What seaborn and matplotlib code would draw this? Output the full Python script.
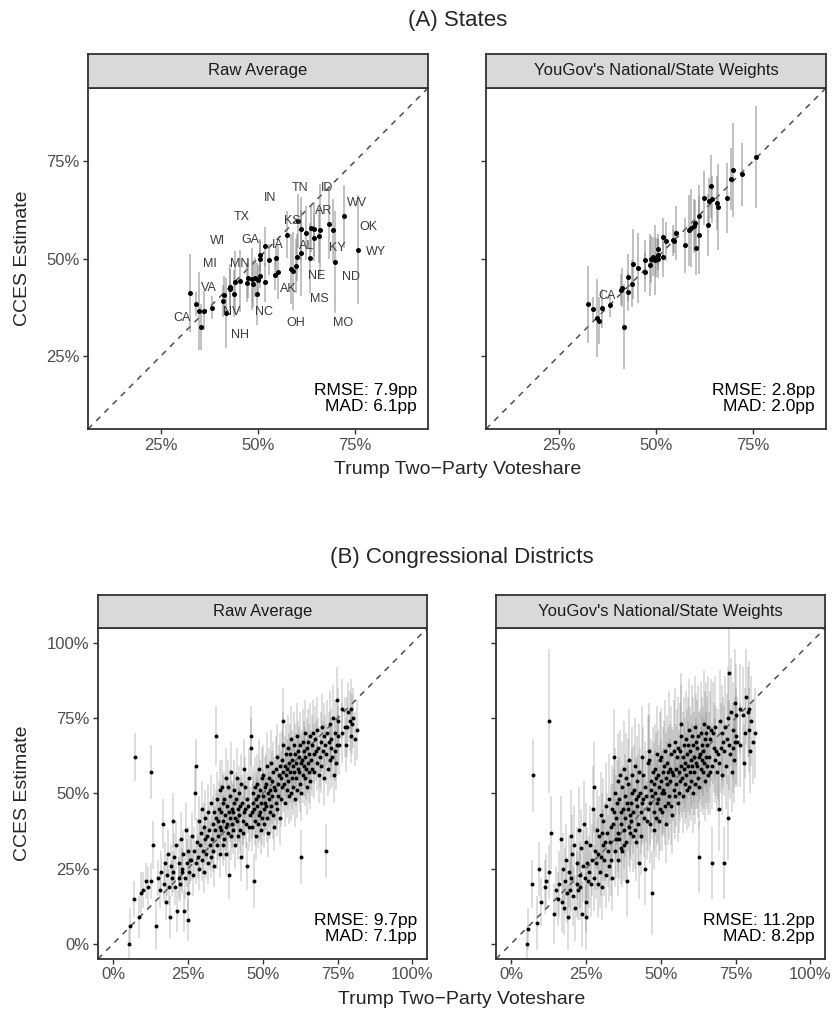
import numpy as np
import pandas as pd
import matplotlib
matplotlib.use("Agg")
import matplotlib.pyplot as plt
from matplotlib.ticker import PercentFormatter
import seaborn as sns


# ==================================================
# DATA — STATES (Trump two-party share vs CCES estimate, in %)
# ==================================================
states = ["AL", "AK", "AZ", "AR", "CA", "CO", "CT", "DE", "FL", "GA",
          "HI", "ID", "IL", "IN", "IA", "KS", "KY", "LA", "ME", "MD",
          "MA", "MI", "MN", "MS", "MO", "MT", "NE", "NV", "NH", "NJ",
          "NM", "NY", "NC", "ND", "OH", "OK", "OR", "PA", "RI", "SC",
          "SD", "TN", "TX", "UT", "VT", "VA", "WA", "WV", "WI", "WY"]
trump_state = [64.4, 58.4, 51.9, 64.3, 33.9, 47.3, 42.8, 44.0, 50.6, 52.7,
               32.5, 68.3, 41.0, 60.0, 55.1, 61.1, 65.7, 60.2, 48.4, 36.0,
               35.3, 50.1, 49.2, 59.1, 59.9, 61.1, 63.5, 48.7, 49.7, 42.9,
               45.3, 38.2, 51.9, 69.8, 54.3, 69.3, 43.8, 50.4, 41.7, 57.4,
               66.0, 63.6, 54.7, 62.3, 34.8, 47.1, 41.2, 72.2, 50.4, 75.7]
raw_state = [55.3, 47.2, 53.2, 57.6, 38.3, 44.9, 42.6, 43.9, 45.5, 49.7,
             41.1, 58.9, 39.1, 50.3, 46.6, 57.7, 55.9, 59.7, 44.7, 36.6,
             32.4, 44.4, 45.1, 46.9, 48.1, 51.5, 50.1, 43.5, 40.9, 42.2,
             44.2, 37.4, 43.9, 49.1, 45.8, 57.2, 41.0, 50.8, 36.1, 56.1,
             57.2, 57.8, 50.1, 56.6, 36.5, 43.8, 40.6, 60.8, 50.0, 52.2]
raw_state_err = [6, 9, 5, 7, 3, 5, 6, 8, 3, 4,
                 10, 9, 4, 6, 7, 8, 7, 7, 8, 5,
                 6, 4, 5, 10, 7, 11, 9, 6, 8, 5,
                 8, 3, 5, 13, 4, 8, 6, 4, 9, 6,
                 12, 6, 3, 7, 10, 5, 5, 8, 5, 14]
wt_state = [65.2, 57.2, 55.4, 68.5, 37.0, 46.5, 45.2, 48.5, 52.4, 54.4,
            38.2, 65.6, 42.0, 59.1, 56.5, 60.8, 64.3, 52.8, 48.3, 37.2,
            34.0, 50.2, 50.5, 57.8, 58.3, 56.0, 58.7, 49.8, 49.7, 41.4,
            47.6, 38.0, 50.3, 72.7, 54.7, 70.5, 43.5, 51.0, 32.5, 53.4,
            63.3, 64.7, 54.4, 65.6, 34.7, 49.7, 42.5, 71.6, 50.0, 76.1]
wt_state_err = [6, 9, 5, 8, 3, 5, 6, 9, 4, 5,
                10, 9, 4, 6, 7, 8, 7, 7, 8, 5,
                6, 5, 5, 10, 7, 10, 8, 6, 9, 5,
                9, 3, 5, 12, 4, 8, 6, 4, 11, 7,
                11, 6, 3, 7, 10, 5, 5, 8, 5, 13]

# text labels (placed by repel in the original)
raw_label_names = ["CA", "VA", "MI", "WI", "TX", "IN", "TN", "ID", "WV", "OK",
                   "WY", "ND", "MO", "MS", "NE", "KY", "AL", "AR", "KS", "IA",
                   "GA", "MN", "NV", "NH", "NC", "OH", "AK"]
raw_label_x = [30.3, 37.4, 37.6, 39.5, 45.9, 53.1, 60.7, 67.7, 75.6, 78.4,
               80.4, 73.9, 71.8, 65.8, 65.1, 70.3, 62.5, 67.0, 58.9, 55.2,
               47.9, 45.4, 43.2, 45.4, 51.5, 59.8, 57.8]
raw_label_y = [34.7, 42.5, 48.6, 54.6, 60.6, 65.6, 68.2, 68.2, 64.3, 58.2,
               51.6, 45.3, 33.4, 39.7, 45.5, 52.7, 53.3, 62.3, 59.6, 53.5,
               54.7, 48.6, 36.3, 30.4, 36.2, 33.4, 42.1]
wt_label_names = ["CA"]
wt_label_x = [37.5]
wt_label_y = [40.4]

# ==================================================
# DATA — CONGRESSIONAL DISTRICTS
# ==================================================
cd_trump = [
    5.3, 5.6, 7.2, 7.0, 8.6, 9.4, 9.9, 11.2, 11.8, 12.8, 12.7, 13.3, 14.5, 15.1,
    15.6, 16.2, 16.7, 16.9, 17.4, 17.8, 18.1, 18.5, 18.8, 19.0, 19.3, 19.7, 20.2, 20.0,
    20.5, 20.8, 21.1, 21.5, 21.9, 22.0, 22.3, 22.6, 22.9, 23.2, 23.5, 23.8, 24.0, 24.3,
    24.6, 24.9, 25.0, 25.2, 25.5, 25.8,
    26.1, 26.4, 26.8, 27.7, 27.0, 27.3, 27.6, 28.1, 28.4, 28.7, 28.9, 29.1, 29.4, 29.6,
    29.9, 30.0, 30.3, 30.5, 30.7, 30.9, 31.1, 31.4, 31.6, 31.9, 32.0, 32.3, 32.6, 32.8,
    33.1, 33.3, 33.5, 33.7, 33.9, 34.3, 34.1, 34.5, 34.7, 34.9, 35.0, 35.2, 35.4, 35.6,
    35.8, 35.9,
    36.0, 36.2, 36.4, 36.6, 36.8, 36.9, 37.1, 37.2, 37.4, 37.6, 37.8, 37.9,
    38.0, 38.2, 38.3, 38.5, 38.7, 38.9, 39.1, 39.2, 39.4, 39.5, 39.7, 39.9,
    40.0, 40.2, 40.3, 40.5, 40.7, 40.9, 41.1, 41.3, 41.5, 41.7, 41.9,
    42.0, 42.2, 42.4, 42.5, 42.7, 42.9, 43.1, 43.3, 43.5, 43.7, 43.9,
    44.0, 44.2, 44.5, 44.7, 44.9, 45.1, 45.3, 45.6, 45.8,
    46.0, 46.1, 46.3, 46.5, 46.7, 46.9, 47.1, 47.0, 47.4, 47.6, 47.8, 47.9,
    48.0, 48.2, 48.4, 48.5, 48.7, 48.9, 49.0, 49.2, 49.3, 49.5, 49.7, 49.9,
    50.0, 50.2, 50.3, 50.5, 50.7, 50.9, 51.0, 51.2, 51.4, 51.5, 51.7, 51.9,
    52.0, 52.2, 52.3, 52.5, 52.7, 52.9, 53.0, 53.2, 53.4, 53.5, 53.7, 53.9,
    54.1, 54.3, 54.5, 54.7, 54.9, 55.0, 55.2, 55.4, 55.7, 55.9,
    56.0, 56.2, 56.4, 56.5, 56.7, 56.9, 56.7, 57.2, 57.4, 57.5, 57.7, 57.9,
    58.0, 58.2, 58.4, 58.5, 58.7, 58.9, 59.0, 59.2, 59.3, 59.5, 59.7, 59.9,
    60.0, 60.2, 60.3, 60.5, 60.7, 60.9, 61.0, 61.2, 61.4, 61.5, 61.7, 61.9,
    62.0, 62.2, 62.3, 62.5, 62.7, 62.9, 62.8, 63.2, 63.4, 63.5, 63.7, 63.9,
    64.0, 64.2, 64.3, 64.5, 64.7, 64.9, 65.0, 65.2, 65.4, 65.5, 65.7, 65.9,
    66.1, 66.4, 66.6, 66.9, 67.3, 67.1, 67.5, 67.8, 68.0, 68.3, 68.6, 68.8,
    69.6, 69.2, 69.4, 69.9, 70.1, 70.4, 70.6, 70.9, 71.0, 71.2, 71.5, 71.8,
    72.0, 72.5, 72.4, 72.7, 72.7, 73.2, 73.5, 73.8, 74.0, 74.3, 74.7, 74.5,
    74.7, 75.2, 75.0, 75.6,
    76.4, 76.6, 77.5, 77.7, 78.1, 78.6, 79.3, 79.4, 79.7, 79.6, 80.2, 80.8, 81.5,
]
cd_raw = [
    0, 6, 62, 15, 9, 17, 18, 21, 19, 57, 21, 33, 6, 22,
    18, 24, 40, 20, 27, 14, 23, 30, 19, 9, 26, 22, 41, 24, 29, 19, 33, 11, 22, 27,
    20, 35, 24, 25, 30, 11, 22, 38, 27, 17, 8, 31, 24, 28,
    28, 36, 23, 59, 31, 50, 27, 34, 29, 41, 25, 33, 37, 28, 45, 31, 39, 24, 35, 42,
    30, 36, 44, 27, 38, 33, 29, 47, 35, 40, 31, 44, 26, 69, 38, 42, 33, 48, 36, 41,
    45, 30, 51, 39,
    38, 44, 52, 33, 47, 41, 35, 48, 43, 55, 39, 30, 46, 40, 52, 37, 44, 23,
    42, 49, 36, 57, 45, 40, 44, 38, 51, 47, 33, 42, 48, 41, 55, 36, 45,
    43, 50, 38, 46, 29, 53, 47, 41, 37, 58, 44, 45, 52, 40, 48, 26, 46, 39, 55, 43,
    69, 65, 44, 39, 50, 47, 21, 45, 52, 41, 48, 36, 46, 53, 40, 49, 43, 58,
    51, 44, 47, 38, 55, 42, 49, 56, 45, 40, 52, 47, 53, 46, 59, 42, 50, 37,
    48, 55, 44, 51, 60, 46, 54, 49, 43, 57, 52, 39, 51, 58, 47, 62, 45,
    53, 49, 56, 42, 59,
    55, 48, 61, 52, 66, 57, 74, 53, 59, 47, 63, 56, 58, 51, 65, 54, 60, 49,
    57, 63, 50, 68, 55, 61, 59, 52, 66, 57, 63, 48, 60, 55, 69, 51, 58, 64,
    57, 62, 53, 66, 60, 50, 29, 61, 56, 67, 59, 64, 62, 55, 70, 58, 65, 52,
    60, 67, 57, 63, 54, 69,
    61, 66, 58, 70, 63, 57, 68, 64, 60, 71, 65, 56, 67, 62, 59, 72, 64, 69, 55, 66,
    31, 63, 70, 58, 67, 61, 73, 65, 68, 62, 75, 56, 70, 64, 66, 60, 81, 69, 74, 66,
    78, 70, 72, 66, 72, 77, 74, 69, 73, 78, 75, 68, 71,
]
cd_raw_err = [
    5, 6, 8, 6, 7, 7, 6, 6, 7, 9, 6, 8, 8, 6,
    6, 7, 8, 6, 7, 6, 7, 8, 6, 7, 7, 6, 9, 7, 8, 6, 8, 7, 7, 8,
    6, 9, 7, 7, 8, 7, 7, 9, 8, 6, 7, 8, 7, 8,
    7, 8, 7, 9, 8, 9, 7, 8, 7, 8, 7, 8, 8, 7, 9, 8, 8, 7, 8, 9,
    8, 8, 9, 7, 8, 8, 7, 9, 8, 9, 7, 9, 7, 10, 8, 9, 8, 9, 8, 9,
    9, 8, 10, 8,
    8, 9, 9, 7, 9, 8, 7, 9, 8, 10, 8, 7, 9, 8, 9, 8, 9, 8,
    8, 9, 8, 10, 9, 8, 9, 8, 10, 9, 8, 8, 9, 8, 10, 8, 9,
    9, 9, 8, 9, 8, 10, 9, 8, 8, 10, 9, 9, 10, 8, 9, 8, 9, 8, 10, 9,
    10, 10, 9, 8, 9, 9, 9, 9, 10, 8, 9, 8, 9, 10, 8, 9, 9, 10,
    10, 9, 9, 8, 10, 9, 9, 10, 9, 8, 10, 9, 10, 9, 11, 8, 9, 8,
    9, 10, 9, 10, 11, 9, 10, 9, 8, 10, 10, 8, 10, 11, 9, 11, 9,
    10, 9, 10, 9, 11,
    9, 9, 10, 9, 11, 10, 11, 9, 10, 8, 10, 9, 10, 9, 11, 9, 10, 9,
    10, 10, 9, 11, 10, 10, 10, 9, 11, 10, 10, 9, 10, 9, 11, 9, 10, 10,
    10, 10, 9, 11, 10, 9, 9, 10, 9, 11, 10, 10, 10, 9, 11, 10, 10, 9,
    10, 11, 10, 10, 9, 11,
    10, 10, 9, 11, 10, 9, 11, 10, 9, 11, 10, 9, 10, 10, 9, 11, 10, 11, 9, 10,
    9, 10, 11, 9, 10, 10, 11, 10, 10, 10, 11, 9, 11, 10, 10, 9, 11, 10, 11, 10,
    10, 10, 10, 9, 10, 10, 10, 9, 10, 10, 10, 9, 10,
]
cd_wt = [
    0, 5, 56, 20, 7, 25, 14, 19, 21, 74, 24, 37, 10, 18,
    15, 20, 35, 14, 25, 12, 21, 28, 17, 9, 24, 18, 36, 22, 30, 16, 33, 12, 20, 27,
    18, 38, 23, 19, 32, 10, 26, 40, 22, 14, 9, 34, 27, 21,
    24, 33, 20, 52, 28, 45, 22, 31, 27, 38, 20, 30, 36, 24, 43, 29, 37, 19, 33, 41,
    28, 34, 46, 23, 37, 31, 26, 48, 34, 39, 28, 45, 22, 62, 40, 44, 31, 50, 35, 42,
    47, 28, 54, 37,
    35, 48, 56, 32, 44, 40, 31, 52, 45, 58, 38, 33, 49, 42, 55, 34, 47, 21,
    45, 53, 39, 61, 43, 37, 47, 41, 56, 50, 36, 44, 51, 38, 59, 34, 48,
    46, 54, 40, 49, 27, 57, 50, 44, 36, 62, 47, 48, 56, 42, 52, 25, 49, 41, 60, 45,
    64, 61, 47, 40, 54, 51, 17, 49, 57, 44, 53, 38, 50, 58, 42, 55, 47, 63,
    56, 48, 52, 41, 61, 45, 54, 62, 50, 44, 57, 51, 59, 50, 64, 46, 55, 40,
    53, 60, 47, 57, 66, 49, 58, 54, 46, 63, 57, 43, 56, 64, 51, 67, 49,
    58, 53, 62, 47, 65,
    57, 50, 64, 54, 69, 59, 73, 55, 62, 49, 66, 58, 60, 53, 68, 56, 63, 51,
    59, 66, 52, 71, 57, 64, 61, 54, 69, 59, 66, 50, 62, 57, 72, 53, 60, 67,
    59, 65, 55, 69, 62, 52, 29, 63, 58, 70, 61, 66, 64, 57, 73, 60, 68, 54,
    62, 70, 59, 66, 56, 72,
    62, 68, 57, 71, 27, 59, 70, 65, 61, 72, 64, 57, 45, 63, 60, 74, 65, 70, 56, 67,
    27, 64, 72, 59, 68, 42, 75, 66, 90, 63, 77, 57, 71, 65, 67, 61, 80, 69, 76, 67,
    78, 66, 76, 60, 70, 82, 77, 71, 64, 78, 74, 67, 70,
]
cd_wt_err = [
    6, 7, 12, 8, 9, 9, 8, 9, 9, 24, 9, 12, 10, 8,
    9, 11, 14, 10, 12, 9, 11, 12, 10, 11, 12, 10, 15, 11, 13, 10, 13, 11, 11, 12,
    10, 14, 11, 11, 13, 11, 12, 14, 12, 10, 11, 13, 12, 13,
    12, 13, 11, 15, 12, 14, 11, 13, 12, 13, 11, 12, 13, 12, 14, 13, 13, 11, 12, 14,
    12, 13, 14, 11, 13, 12, 12, 15, 13, 14, 12, 14, 11, 16, 13, 14, 12, 15, 13, 14,
    14, 12, 16, 13,
    13, 14, 15, 12, 14, 13, 12, 15, 14, 16, 13, 12, 14, 13, 15, 13, 14, 12,
    14, 15, 13, 17, 14, 13, 14, 13, 16, 15, 12, 14, 15, 13, 16, 13, 14,
    14, 15, 13, 14, 12, 16, 15, 14, 13, 17, 14, 14, 16, 13, 15, 12, 15, 13, 16, 14,
    16, 15, 14, 13, 14, 14, 14, 14, 15, 13, 14, 13, 14, 15, 13, 15, 14, 16,
    15, 14, 14, 13, 16, 14, 14, 16, 14, 13, 15, 14, 15, 14, 17, 13, 15, 13,
    14, 16, 14, 15, 18, 14, 15, 14, 13, 16, 15, 13, 15, 17, 14, 18, 14,
    15, 14, 16, 13, 17,
    14, 13, 16, 13, 17, 15, 17, 13, 15, 12, 16, 14, 15, 13, 16, 14, 15, 13,
    15, 16, 13, 17, 14, 15, 15, 13, 17, 14, 16, 13, 15, 14, 17, 13, 15, 16,
    14, 16, 13, 17, 15, 13, 12, 15, 14, 17, 15, 16, 15, 14, 18, 15, 16, 13,
    15, 17, 14, 16, 13, 17,
    15, 16, 14, 17, 12, 14, 17, 15, 14, 17, 15, 13, 14, 15, 14, 17, 15, 16, 13, 15,
    12, 15, 17, 14, 15, 14, 17, 15, 15, 15, 18, 13, 16, 15, 15, 14, 18, 16, 17, 15,
    15, 14, 16, 13, 15, 16, 15, 14, 14, 16, 15, 14, 15,
]

panel_names = ["Raw Average", "YouGov's National/State Weights"]
state_metrics = ["RMSE: 7.9pp\nMAD: 6.1pp", "RMSE: 2.8pp\nMAD: 2.0pp"]
cd_metrics = ["RMSE: 9.7pp\nMAD: 7.1pp", "RMSE: 11.2pp\nMAD: 8.2pp"]

# ==================================================
# STYLE
# ==================================================
sns.set_theme(style="ticks")
plt.rcParams["font.family"] = ["Liberation Sans", "DejaVu Sans"]
DARK = "#333333"


def style_axes(ax, lims, ticks, show_ylabels):
    ax.set_xlim(lims)
    ax.set_ylim(lims)
    ax.set_xticks(ticks)
    ax.set_yticks(ticks)
    ax.xaxis.set_major_formatter(PercentFormatter(xmax=100, decimals=0))
    ax.yaxis.set_major_formatter(PercentFormatter(xmax=100, decimals=0))
    ax.tick_params(length=3.6, width=1.0, color=DARK, labelcolor="#4D4D4D",
                   labelsize=12, pad=2.5)
    if not show_ylabels:
        ax.tick_params(axis="y", labelleft=False)
    for sp in ax.spines.values():
        sp.set_visible(True)
        sp.set_color(DARK)
        sp.set_linewidth(1.3)
    ax.set_xlabel("")
    ax.set_ylabel("")


def add_strip(fig, rect, label):
    sax = fig.add_axes(rect)
    sax.set_facecolor("#D9D9D9")
    sax.set_xticks([])
    sax.set_yticks([])
    for sp in sax.spines.values():
        sp.set_visible(True)
        sp.set_color(DARK)
        sp.set_linewidth(1.3)
    sax.text(0.5, 0.5, label, ha="center", va="center", fontsize=12,
             color="#1A1A1A", transform=sax.transAxes)


def draw_panel(ax, x, y, err, lims, ticks, dot_size, bar_color, bar_alpha,
               bar_lw, metrics, show_ylabels):
    df = pd.DataFrame({"x": x, "y": y, "err": err})
    ax.axline((0, 0), slope=1, color="#4D4D4D", lw=1.1, dashes=(3.8, 3.8),
              zorder=1)
    ax.vlines(df["x"], df["y"] - df["err"], df["y"] + df["err"],
              color=bar_color, alpha=bar_alpha, lw=bar_lw, zorder=2)
    sns.scatterplot(data=df, x="x", y="y", ax=ax, color="black",
                    s=dot_size, linewidth=0, zorder=3)
    ax.text(0.968, 0.045, metrics, transform=ax.transAxes, ha="right",
            va="bottom", fontsize=12.5, color="black", linespacing=1.05)
    style_axes(ax, lims, ticks, show_ylabels)


fig = plt.figure(figsize=(8.36, 10.15), dpi=100)

# ---------------- (A) States ----------------
top_lims = (6.2, 93.8)
top_ticks = [25, 50, 75]
top_left = [0.1053, 0.5813]
for i, (yy, ee, met) in enumerate([(raw_state, raw_state_err, state_metrics[0]),
                                   (wt_state, wt_state_err, state_metrics[1])]):
    ax = fig.add_axes([top_left[i], 0.5773, 0.4067, 0.3360])
    draw_panel(ax, trump_state, yy, ee, top_lims, top_ticks, 13,
               "#808080", 0.62, 1.1, met, i == 0)
    names, lx, ly = ((raw_label_names, raw_label_x, raw_label_y) if i == 0
                     else (wt_label_names, wt_label_x, wt_label_y))
    for n, tx, ty in zip(names, lx, ly):
        ax.text(tx, ty, n, ha="center", va="center", fontsize=9,
                color="#3A3A3A", zorder=4)
    add_strip(fig, [top_left[i], 0.9133, 0.4067, 0.0335], panel_names[i])

fig.text(0.547, 0.980, "(A) States", ha="center", va="center", fontsize=16)
fig.text(0.547, 0.537, "Trump Two\u2212Party Voteshare", ha="center",
         va="center", fontsize=14)
fig.text(0.027, 0.7455, "CCES Estimate", ha="center", va="center",
         rotation=90, fontsize=14)

# ---------------- (B) Congressional Districts ----------------
bot_lims = (-5, 105)
bot_ticks = [0, 25, 50, 75, 100]
bot_left = [0.1172, 0.5933]
for i, (yy, ee, met) in enumerate([(cd_raw, cd_raw_err, cd_metrics[0]),
                                   (cd_wt, cd_wt_err, cd_metrics[1])]):
    ax = fig.add_axes([bot_left[i], 0.0552, 0.3940, 0.3261])
    draw_panel(ax, cd_trump, yy, ee, bot_lims, bot_ticks, 8,
               "#7A7A7A", 0.27, 1.3, met, i == 0)
    add_strip(fig, [bot_left[i], 0.3813, 0.3940, 0.0325], panel_names[i])

fig.text(0.552, 0.451, "(B) Congressional Districts", ha="center",
         va="center", fontsize=16)
fig.text(0.552, 0.015, "Trump Two\u2212Party Voteshare", ha="center",
         va="center", fontsize=14)
fig.text(0.027, 0.2185, "CCES Estimate", ha="center", va="center",
         rotation=90, fontsize=14)

fig.savefig("out.png", dpi=100)
